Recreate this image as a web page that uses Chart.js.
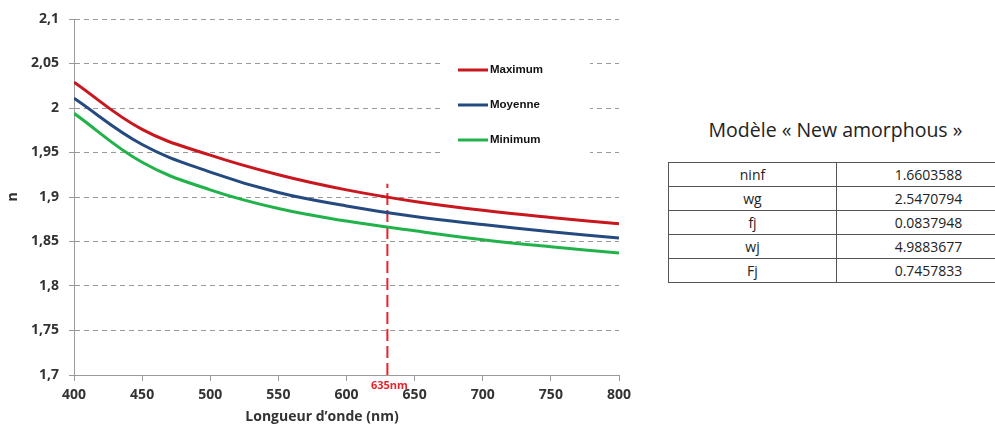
<!DOCTYPE html>
<html><head><meta charset="utf-8">
<script src="https://cdn.jsdelivr.net/npm/chart.js@4/dist/chart.umd.min.js"></script>
<style>
html,body{margin:0;padding:0;background:#fff;width:995px;height:427px;overflow:hidden;position:relative;}
#wrap{position:absolute;left:0;top:0;width:640px;height:427px;}
#title{position:absolute;left:668px;top:117px;width:335px;text-align:center;font-family:"Open Sans",sans-serif;font-size:19.5px;line-height:26px;color:#222;}
table{position:absolute;left:668px;top:162px;width:352px;table-layout:fixed;border-collapse:collapse;font-family:"Open Sans",sans-serif;font-size:14px;color:#222;}
td{border:1px solid #555;height:23px;padding:0;text-align:center;line-height:22px;}
col.a{width:168px;} col.b{width:184px;}
</style></head>
<body>
<div id="wrap"><canvas id="c" width="640" height="427"></canvas></div>
<div id="title">Modèle « New amorphous »</div>
<table id="tbl"><colgroup><col class="a"><col class="b"></colgroup></table>
<script>
const wavelengths = [400, 450, 500, 550, 600, 650, 700, 750, 800];
const maximum = [2.029, 1.976, 1.947, 1.925, 1.908, 1.895, 1.885, 1.877, 1.870];
const moyenne = [2.011, 1.959, 1.928, 1.905, 1.890, 1.878, 1.869, 1.861, 1.854];
const minimum = [1.994, 1.939, 1.908, 1.887, 1.873, 1.862, 1.852, 1.844, 1.837];
const seriesNames = ["Maximum", "Moyenne", "Minimum"];
const markerX = [630, 630];
const markerY = [1.7, 1.915];
const markerLabel = "635nm";
const xTitle = "Longueur d\u2019onde (nm)";
const yTitle = "n";
const paramNames = ["ninf", "wg", "fj", "wj", "Fj"];
const paramValues = ["1.6603588", "2.5470794", "0.0837948", "4.9883677", "0.7457833"];

const tbl = document.getElementById('tbl');
paramNames.forEach((n, i) => {
  const tr = document.createElement('tr');
  tr.innerHTML = '<td>' + n + '</td><td>' + paramValues[i] + '</td>';
  tbl.appendChild(tr);
});

const colors = ["#C8171E", "#254A80", "#22B24C"];
const toXY = arr => arr.map((v, i) => ({x: wavelengths[i], y: v}));

const overlay = {
  id: 'overlay',
  beforeDatasetsDraw(chart) {
    const ctx = chart.ctx;
    ctx.save();
    ctx.fillStyle = '#fff';
    ctx.fillRect(440, 55, 150, 105);
    const ys = [70, 105, 140];
    ctx.font = 'bold 11.5px "Liberation Sans", Arial, sans-serif';
    ctx.textBaseline = 'middle';
    seriesNames.forEach((n, i) => {
      ctx.strokeStyle = colors[i];
      ctx.lineWidth = 3;
      ctx.beginPath(); ctx.moveTo(458, ys[i]); ctx.lineTo(488, ys[i]); ctx.stroke();
      ctx.fillStyle = '#111';
      ctx.textAlign = 'left';
      ctx.fillText(n, 490, ys[i]);
    });
    ctx.restore();
  },
  afterDraw(chart) {
    const ctx = chart.ctx;
    const xs = chart.scales.x;
    ctx.save();
    ctx.fillStyle = '#E8242B';
    ctx.font = 'bold 11px "Open Sans", sans-serif';
    ctx.textAlign = 'center';
    ctx.textBaseline = 'middle';
    ctx.fillText(markerLabel, xs.getPixelForValue(markerX[0]) + 2, 386);
    ctx.fillStyle = '#333';
    ctx.font = 'bold 14px "Open Sans", sans-serif';
    ctx.fillText(xTitle, 322, 417);
    ctx.translate(13, 197);
    ctx.rotate(-Math.PI / 2);
    ctx.fillText(yTitle, 0, 0);
    ctx.restore();
  }
};

new Chart(document.getElementById('c'), {
  type: 'line',
  data: {
    datasets: [
      {label: seriesNames[0], data: toXY(maximum), borderColor: colors[0], borderWidth: 3, pointRadius: 0, tension: 0.4},
      {label: seriesNames[1], data: toXY(moyenne), borderColor: colors[1], borderWidth: 3, pointRadius: 0, tension: 0.4},
      {label: seriesNames[2], data: toXY(minimum), borderColor: colors[2], borderWidth: 3, pointRadius: 0, tension: 0.4},
      {label: markerLabel, data: markerX.map((x, i) => ({x, y: markerY[i]})), borderColor: '#E8242B', borderWidth: 2, borderDash: [12, 5], pointRadius: 0}
    ]
  },
  options: {
    responsive: false,
    animation: false,
    layout: {padding: {top: 19, right: 21, left: 0, bottom: 0}},
    plugins: {legend: {display: false}, tooltip: {enabled: false}},
    scales: {
      x: {
        type: 'linear', min: 400, max: 800,
        afterFit: s => { s.height = 52; },
        ticks: {stepSize: 50, padding: 6, color: '#333', font: {family: 'Open Sans', size: 14, weight: 'bold'}},
        grid: {drawOnChartArea: false, tickLength: 6, color: '#9a9a9a'},
        border: {color: '#9a9a9a', width: 1}
      },
      y: {
        min: 1.7, max: 2.1,
        afterFit: s => { s.width = 74; },
        ticks: {stepSize: 0.05, padding: 10, color: '#333', font: {family: 'Open Sans', size: 14, weight: 'bold'},
          callback: v => String(+v.toFixed(2)).replace('.', ',')},
        grid: {color: '#9a9a9a', lineWidth: 1, tickLength: 5, tickBorderDash: [], tickColor: '#9a9a9a'},
        border: {color: '#9a9a9a', width: 1, dash: [5, 4]}
      }
    }
  },
  plugins: [overlay]
});
</script>
</body></html>
